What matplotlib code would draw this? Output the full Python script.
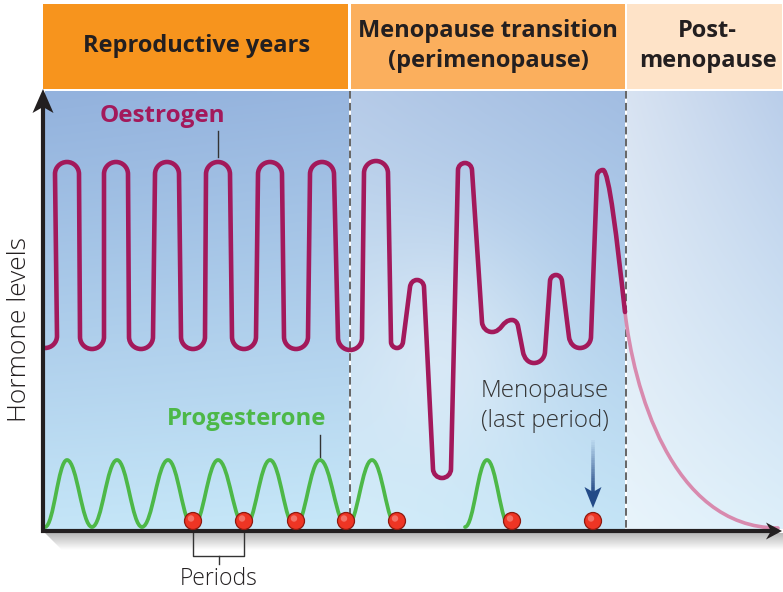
import numpy as np
import matplotlib.pyplot as plt
from matplotlib.path import Path
from matplotlib.patches import PathPatch, Rectangle, Circle, Polygon
from matplotlib.colors import to_rgb
from matplotlib.collections import LineCollection

plt.rcParams['font.family'] = ['Open Sans', 'DejaVu Sans']

# header bands
phase_labels = ['Reproductive years', 'Menopause transition\n(perimenopause)', 'Post-\nmenopause']
phase_edges = [43, 350, 626, 783]
phase_colors = ['#F7941D', '#FBAF5D', '#FEE3C8']

# oestrogen: peaks and troughs (x, level in px from top) and how round each turn is
oest_x = [45, 67, 92, 116, 141, 167, 193, 218, 244, 270, 296, 322, 350,
          376, 397, 417, 442, 465, 492, 512, 534, 556, 580, 603]
oest_y = [348, 162, 349, 162, 349, 162, 349, 162, 349, 162, 349, 162, 350,
          161, 348, 280, 478, 163, 332, 320, 363, 275, 348, 170]
oest_r = [12] * 13 + [12, 6, 7, 9, 7, 10, 6, 11, 6, 11, 6]

# oestrogen fall after the last peak (bezier control points)
decay_x = [603, 609, 617, 625, 633, 670, 778]
decay_y = [170, 170, 240, 312, 384, 528, 528]

# progesterone: peaks and troughs, two runs (quiet stretch sits on the axis)
prog_runs = [
    ([45, 67, 92, 117, 142, 168, 193, 218, 245, 270, 295, 320, 347, 372, 397],
     [527, 460, 527, 460, 527, 460, 527, 460, 527, 460, 527, 460, 527, 460, 527]),
    ([465, 487, 510],
     [527, 460, 527]),
]

# periods (red dots)
period_x = [193, 244, 296, 346, 397, 512, 593]
period_y = 521

OEST = '#A3195B'
PINK = '#D88AAE'
GREEN = '#4DB848'
INK = '#231F20'


def rounded_wave(xs, ys, rs):
    k = 0.55
    verts = [(xs[0], ys[0])]
    codes = [Path.MOVETO]
    for i in range(len(xs) - 1):
        x0, y0, x1, y1 = xs[i], ys[i], xs[i + 1], ys[i + 1]
        dx, dy = x1 - x0, y1 - y0
        if abs(dy) < 40:
            verts += [(x0 + 0.5 * dx, y0), (x1 - 0.5 * dx, y1), (x1, y1)]
            codes += [Path.CURVE4] * 3
            continue
        s = np.sign(dy)
        r0 = min(rs[i], 0.45 * abs(dy))
        r1 = min(rs[i + 1], 0.45 * abs(dy))
        j1 = np.array([x0 + r0, y0 + s * r0])
        j2 = np.array([x1 - r1, y1 - s * r1])
        d = j2 - j1
        u = d / np.hypot(*d)
        verts += [(x0 + k * r0, y0), tuple(j1 - k * r0 * u), tuple(j1),
                  tuple(j2),
                  tuple(j2 + k * r1 * u), (x1 - k * r1, y1), (x1, y1)]
        codes += [Path.CURVE4] * 3 + [Path.LINETO] + [Path.CURVE4] * 3
    return verts, codes


def smooth_wave(xs, ys, f=0.4):
    verts = [(xs[0], ys[0])]
    codes = [Path.MOVETO]
    for x0, y0, x1, y1 in zip(xs[:-1], ys[:-1], xs[1:], ys[1:]):
        dx = x1 - x0
        verts += [(x0 + f * dx, y0), (x1 - f * dx, y1), (x1, y1)]
        codes += [Path.CURVE4] * 3
    return Path(verts, codes)


def gradient_box(ax, x0, x1, y0, y1, tl, tr, bl, br, glow=None):
    t = np.linspace(0, 1, 80)
    u, v = np.meshgrid(t, t)
    u, v = u[..., None], v[..., None]
    c = [np.array(to_rgb(col)) for col in (tl, tr, bl, br)]
    img = ((1 - u) * (1 - v) * c[0] + u * (1 - v) * c[1]
           + (1 - u) * v * c[2] + u * v * c[3])
    if glow is not None:
        gx, gy, amt = glow
        d2 = (u - gx) ** 2 + ((v - gy) * 1.3) ** 2
        img = img + (1 - img) * amt * np.exp(-d2 / 0.12)
    ax.imshow(img, extent=(x0, x1, y1, y0), origin='upper', aspect='auto',
              interpolation='bilinear', zorder=0)


fig = plt.figure(figsize=(7.83, 5.92), dpi=100)
ax = fig.add_axes([0, 0, 1, 1])

# plot background
gradient_box(ax, 45, 349, 91, 529, '#93B2DD', '#98B6DF', '#C4E5F7', '#C6E7F8')
gradient_box(ax, 351, 625, 91, 529, '#B6CBE8', '#A2BDE2', '#D2ECF9', '#C4E4F6',
             glow=(0.35, 0.6, 0.35))
gradient_box(ax, 627, 783, 91, 529, '#D8E3F2', '#BACEEA', '#E8F4FB', '#DDEFFA')

# shadow under x axis
t = np.linspace(0, 1, 40)[:, None]
shade = np.dstack([0.72 + 0.28 * t] * 3) * np.ones((1, 2, 1))
sh = ax.imshow(shade, extent=(40, 783, 550, 533), origin='upper', aspect='auto',
               interpolation='bilinear', zorder=1)
sh.set_clip_path(Polygon([(45, 533), (783, 533), (783, 550), (62, 550)],
                         transform=ax.transData))

# header bands
for i, lab in enumerate(phase_labels):
    x0, x1 = phase_edges[i], phase_edges[i + 1]
    ax.add_patch(Rectangle((x0 + (1 if i else 0), 4), x1 - x0 - 2, 85,
                           fc=phase_colors[i], ec='none', zorder=1))
    ax.text((x0 + x1) / 2 + (0 if i < 2 else 3), 46, lab, ha='center', va='center',
            fontsize=17, fontweight='bold', color=INK, linespacing=1.3, zorder=5)

# phase dividers
for xd in phase_edges[1:3]:
    ax.plot([xd, xd], [91, 529], ls=(0, (5, 2.8)), lw=1.1, color='#3A3A3A', zorder=2)

# oestrogen
verts, codes = rounded_wave(oest_x, oest_y, oest_r)
dv = list(zip(decay_x, decay_y))
verts += dv[1:4]
codes += [Path.CURVE4] * 3
ax.add_patch(PathPatch(Path(verts, codes), fill=False, ec=OEST, lw=3.3,
                       capstyle='round', joinstyle='round', zorder=4))
ax.add_patch(PathPatch(Path(dv[3:], [Path.MOVETO] + [Path.CURVE4] * 3),
                       fill=False, ec=PINK, lw=2.6, capstyle='round', zorder=3))

# progesterone
for px_run, py_run in prog_runs:
    ax.add_patch(PathPatch(smooth_wave(px_run, py_run), fill=False, ec=GREEN, lw=2.7,
                           capstyle='round', joinstyle='round', zorder=4))

# axes with arrowheads
ax.plot([43, 43], [533, 105], color=INK, lw=3, solid_capstyle='butt', zorder=6)
ax.plot([41, 772], [531, 531], color=INK, lw=3, solid_capstyle='butt', zorder=6)
ax.add_patch(Polygon([(43, 89), (32.5, 113), (43, 107), (53.5, 113)], fc=INK, ec='none', zorder=6))
ax.add_patch(Polygon([(782, 531), (766, 522.5), (771, 531), (766, 539.5)], fc=INK, ec='none', zorder=6))

# labels and leaders
ax.text(162, 116, 'Oestrogen', ha='center', va='center', fontsize=17.5,
        fontweight='bold', color=OEST, zorder=5)
ax.plot([218, 218], [131, 157], color='#333333', lw=1, zorder=3)
ax.text(247, 419, 'Progesterone', ha='center', va='center', fontsize=17.2,
        fontweight='bold', color=GREEN, zorder=5)
ax.plot([320, 320], [435, 457], color='#333333', lw=1, zorder=3)

ax.text(20, 330, 'Hormone levels', ha='center', va='center', rotation=90,
        fontsize=19, fontweight='light', color=INK)

# periods bracket
ax.plot([period_x[0], period_x[0], period_x[1], period_x[1]],
        [period_y, 556, 556, period_y], color='#333333', lw=1, zorder=3)
xm = (period_x[0] + period_x[1]) / 2
ax.plot([xm, xm], [556, 564], color='#333333', lw=1, zorder=3)
ax.text(xm, 579, 'Periods', ha='center', va='center', fontsize=16.5,
        fontweight='light', color=INK)

# period dots
for px in period_x:
    ax.add_patch(Circle((px, period_y), 8.5, fc='#EE3524', ec='#8E1A10', lw=0.9, zorder=7))
    ax.add_patch(Circle((px - 2, period_y - 2.5), 3.2, fc='white', ec='none', alpha=0.3, zorder=8))

# menopause annotation
ax.text(545, 406, 'Menopause\n(last period)', ha='center', va='center', fontsize=17.4,
        fontweight='light', color='#333333', linespacing=1.32, zorder=5)
mx = period_x[-1]
yy = np.linspace(440, 494, 25)
segs = [[(mx, a), (mx, b)] for a, b in zip(yy[:-1], yy[1:])]
alphas = np.linspace(0.05, 1, len(segs))
cols = [(0.14, 0.29, 0.53, a) for a in alphas]
ax.add_collection(LineCollection(segs, colors=cols, linewidths=2.6, zorder=5))
ax.add_patch(Polygon([(mx, 508), (584.5, 487), (mx, 492), (601.5, 487)],
                     fc='#234A87', ec='none', zorder=5))

ax.set_xlim(0, 783)
ax.set_ylim(592, 0)
ax.axis('off')
fig.savefig('out.png', dpi=100)
